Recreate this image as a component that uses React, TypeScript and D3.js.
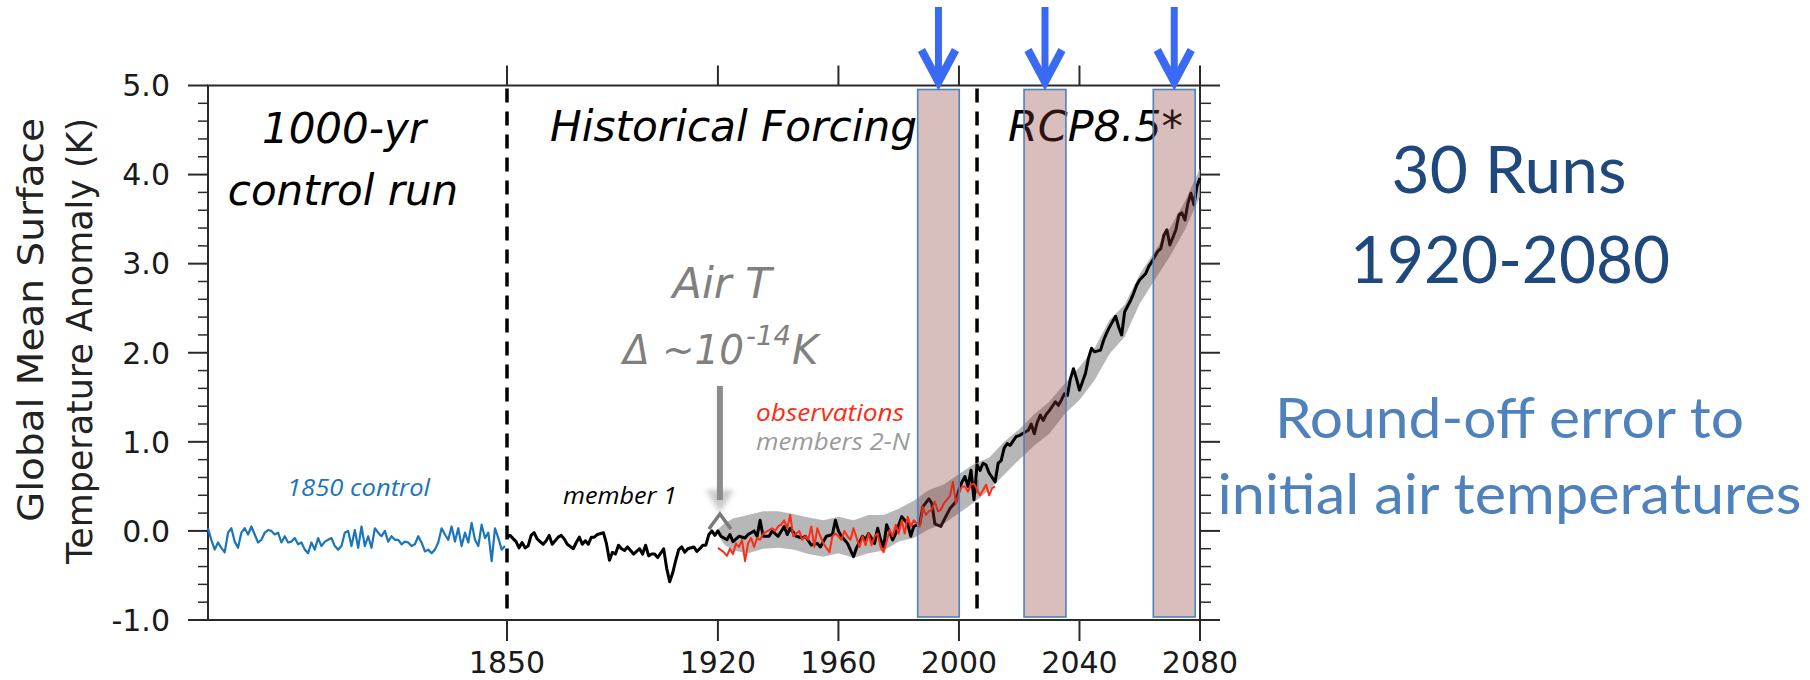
import * as d3 from "d3";

// 1000-yr control run, shown compressed left of 1850 (evenly spaced samples)
const controlRun = [
  0.03, -0.1, -0.21, -0.13, -0.19, -0.24, -0.02, 0.03, -0.12, -0.19,
  -0.02, 0.03, -0.04, 0.05, -0.04, -0.13, -0.1, -0.02, 0.01, 0.0,
  -0.04, -0.02, -0.13, -0.06, -0.13, -0.12, -0.08, -0.15, -0.13, -0.21,
  -0.25, -0.13, -0.21, -0.08, -0.17, -0.12, -0.1, -0.08, -0.17, -0.21,
  -0.17, -0.02, 0.0, -0.17, 0.01, -0.19, 0.05, -0.17, -0.06, -0.19,
  0.03, -0.02, -0.06, 0.0, -0.12, -0.06, -0.1, -0.1, -0.15, -0.12,
  -0.13, -0.17, -0.15, -0.06, -0.13, -0.23, -0.21, -0.25, -0.21, -0.13,
  0.03, -0.04, -0.1, 0.05, -0.12, 0.03, -0.17, -0.02, -0.13, 0.09,
  -0.1, -0.17, 0.07, -0.08, -0.02, -0.34, 0.03, -0.08, -0.21, -0.17,
];

// member 1 [year, anomaly]
const member1: [number, number][] = [
  [1850, -0.07], [1851, -0.05], [1853, -0.12], [1854, -0.19], [1855, -0.13], [1856, -0.19],
  [1857, -0.17], [1858, -0.05], [1859, -0.02], [1860, -0.09], [1862, -0.15], [1863, -0.11],
  [1864, -0.05], [1865, -0.15], [1866, -0.11], [1867, -0.07], [1868, -0.05], [1869, -0.09],
  [1870, -0.15], [1872, -0.2], [1873, -0.13], [1874, -0.07], [1875, -0.15], [1876, -0.11],
  [1877, -0.15], [1878, -0.07], [1879, -0.07], [1880, -0.04], [1882, -0.02], [1883, -0.14],
  [1884, -0.33], [1885, -0.24], [1886, -0.26], [1887, -0.16], [1888, -0.2], [1889, -0.22],
  [1890, -0.18], [1892, -0.26], [1893, -0.23], [1894, -0.2], [1895, -0.26], [1896, -0.16],
  [1897, -0.28], [1898, -0.26], [1899, -0.26], [1900, -0.3], [1902, -0.2], [1903, -0.42],
  [1904, -0.57], [1905, -0.47], [1906, -0.33], [1907, -0.21], [1908, -0.18], [1909, -0.24],
  [1910, -0.2], [1912, -0.18], [1913, -0.23], [1914, -0.2], [1915, -0.16], [1916, -0.16],
  [1917, -0.04], [1918, 0.0], [1919, -0.05],
  [1920, 0.0], [1921, -0.06], [1923, -0.1], [1924, -0.04], [1925, -0.12], [1927, -0.06],
  [1929, -0.08], [1930, -0.04], [1932, 0.0], [1933, -0.06], [1934, 0.12], [1935, -0.06],
  [1937, -0.06], [1938, 0.0], [1940, -0.06], [1942, 0.05], [1943, -0.04], [1944, 0.03],
  [1946, -0.06], [1948, -0.08], [1949, -0.06], [1951, -0.16], [1953, -0.14], [1954, -0.18],
  [1956, -0.06], [1958, -0.04], [1959, 0.12], [1960, 0.0], [1961, -0.06], [1962, -0.1],
  [1963, -0.14], [1965, -0.29], [1966, -0.19], [1968, -0.06], [1969, -0.1], [1970, -0.03],
  [1972, -0.14], [1973, 0.03], [1974, -0.1], [1975, -0.18], [1976, 0.07], [1978, -0.1],
  [1979, -0.03], [1981, 0.16], [1983, 0.08], [1984, -0.06], [1985, 0.05], [1987, 0.08],
  [1988, 0.27], [1990, 0.36], [1991, 0.31], [1992, 0.08], [1994, 0.05], [1995, 0.12],
  [1997, 0.25], [1999, 0.33], [2000, 0.46], [2001, 0.55], [2002, 0.61], [2003, 0.5],
  [2004, 0.68], [2005, 0.35], [2006, 0.74], [2007, 0.68], [2008, 0.76], [2009, 0.74],
  [2010, 0.65], [2012, 0.55], [2013, 0.76], [2014, 0.79], [2015, 0.93], [2016, 0.98],
  [2017, 0.96], [2018, 1.01], [2019, 1.06], [2020, 1.07], [2022, 1.11], [2023, 1.13],
  [2024, 1.2], [2025, 1.09], [2026, 1.22], [2027, 1.3], [2028, 1.24], [2029, 1.31],
  [2030, 1.35], [2032, 1.45], [2033, 1.41], [2034, 1.47], [2035, 1.54], [2036, 1.52],
  [2037, 1.71], [2038, 1.82], [2039, 1.71], [2040, 1.58], [2042, 1.77], [2043, 1.94],
  [2044, 2.05], [2045, 2.01], [2047, 2.03], [2048, 2.14], [2049, 2.22], [2050, 2.29],
  [2051, 2.35], [2052, 2.41], [2053, 2.29], [2054, 2.2], [2055, 2.46], [2057, 2.59],
  [2058, 2.67], [2059, 2.76], [2060, 2.82], [2062, 2.89], [2063, 2.97], [2064, 3.02],
  [2065, 3.08], [2066, 3.14], [2067, 3.17], [2068, 3.32], [2069, 3.38], [2070, 3.21],
  [2072, 3.38], [2073, 3.55], [2074, 3.57], [2075, 3.49], [2076, 3.68], [2077, 3.79],
  [2078, 3.66], [2079, 3.87], [2080, 3.96],
];

// observations [year, anomaly]
const observations: [number, number][] = [
  [1920, -0.19], [1922, -0.24], [1923, -0.28], [1924, -0.2], [1925, -0.26], [1926, -0.14],
  [1927, -0.18], [1928, -0.1], [1929, -0.34], [1930, -0.14], [1931, -0.08], [1932, -0.18],
  [1933, -0.08], [1934, -0.1], [1935, -0.03], [1937, 0.01], [1938, 0.03], [1939, 0.0],
  [1940, 0.05], [1941, 0.07], [1942, 0.12], [1943, 0.03], [1944, 0.18], [1945, -0.06],
  [1947, 0.0], [1948, -0.1], [1949, -0.06], [1950, -0.1], [1951, 0.05], [1952, -0.18],
  [1953, 0.03], [1954, -0.06], [1955, -0.14], [1957, -0.24], [1958, -0.06], [1959, -0.03],
  [1960, -0.06], [1961, -0.1], [1962, 0.0], [1963, -0.06], [1964, -0.1], [1965, 0.03],
  [1967, -0.18], [1968, -0.06], [1969, -0.16], [1970, -0.03], [1971, -0.16], [1972, -0.06],
  [1973, -0.03], [1974, -0.18], [1975, -0.24], [1977, 0.01], [1978, -0.06], [1979, 0.07],
  [1980, -0.03], [1981, 0.12], [1982, -0.03], [1983, 0.16], [1984, 0.05], [1985, 0.12],
  [1987, 0.05], [1988, 0.27], [1989, 0.18], [1990, 0.22], [1991, 0.24], [1992, 0.33],
  [1993, 0.22], [1994, 0.24], [1995, 0.31], [1997, 0.39], [1998, 0.55], [1999, 0.31],
  [2000, 0.42], [2001, 0.5], [2002, 0.5], [2003, 0.44], [2004, 0.52], [2005, 0.53],
  [2007, 0.4], [2008, 0.46], [2009, 0.52], [2010, 0.4], [2011, 0.48], [2012, 0.5],
];

// members 2-N envelope [year, low, high]
const ensembleSpread: [number, number, number][] = [
  [1920, -0.04, 0.02], [1922, -0.15, 0.08], [1925, -0.22, 0.14], [1930, -0.25, 0.18],
  [1935, -0.2, 0.22], [1940, -0.19, 0.22], [1945, -0.21, 0.19], [1950, -0.26, 0.15],
  [1955, -0.29, 0.12], [1960, -0.25, 0.16], [1965, -0.3, 0.12], [1970, -0.25, 0.18],
  [1975, -0.22, 0.18], [1980, -0.12, 0.25], [1985, -0.08, 0.34], [1990, 0.02, 0.46],
  [1995, 0.08, 0.52], [2000, 0.2, 0.64], [2005, 0.32, 0.75], [2010, 0.46, 0.82],
  [2015, 0.63, 1.0], [2020, 0.8, 1.14], [2025, 0.96, 1.31], [2030, 1.09, 1.45],
  [2035, 1.31, 1.65], [2040, 1.47, 1.84], [2045, 1.69, 2.05], [2050, 1.99, 2.37],
  [2055, 2.18, 2.54], [2060, 2.55, 2.88], [2065, 2.82, 3.14], [2070, 3.08, 3.4],
  [2075, 3.38, 3.7], [2080, 3.75, 4.07],
];

const yTicks = [-1, 0, 1, 2, 3, 4, 5];
const xTicks = [1850, 1920, 1960, 2000, 2040, 2080];
const dividers = [1850, 2006];
const windows: [number, number][] = [[1986.3, 2000.1], [2021.6, 2035.5], [2064.5, 2078.4]];
const perturbYear = 1920;

const PLOT_FONT = "'DejaVu Sans', Verdana, sans-serif";
const NOTE_FONT = "'Open Sans', sans-serif";
const SIDE_FONT = "Lato, 'Open Sans', sans-serif";

export default function App() {
  const x = d3.scaleLinear().domain([1850, 2080]).range([507, 1200]);
  const xCtl = d3.scaleLinear().domain([0, controlRun.length - 1]).range([208, 505]);
  const y = d3.scaleLinear().domain([-1, 5]).range([620, 85.5]);

  const left = 208;
  const right = x(2080);
  const top = y(5);
  const bottom = y(-1);

  const line = d3.line<[number, number]>().x((d) => x(d[0])).y((d) => y(d[1]));
  const ctlLine = d3.line<number>().x((d, i) => xCtl(i)).y((d) => y(d));
  const band = d3
    .area<[number, number, number]>()
    .x((d) => x(d[0]))
    .y0((d) => y(d[1]))
    .y1((d) => y(d[2]));

  const minor = d3.range(0, 31).filter((i) => i % 5 !== 0).map((i) => -1 + i * 0.2);
  const axisColor = "#2a2a2a";
  const px = x(perturbYear) + 2;

  return (
    <svg width={1810} height={680} style={{ position: "absolute", left: 0, top: 0, background: "#fff" }}>
      <defs>
        <filter id="soft" x="-50%" y="-50%" width="200%" height="200%">
          <feGaussianBlur stdDeviation="2.5" />
        </filter>
      </defs>

      {/* frame */}
      <rect x={left} y={top} width={right - left} height={bottom - top} fill="none" stroke={axisColor} strokeWidth={2} />
      {yTicks.map((t) => (
        <g key={"yt" + t}>
          <line x1={left - 20} x2={left} y1={y(t)} y2={y(t)} stroke={axisColor} strokeWidth={2} />
          <line x1={right} x2={right + 20} y1={y(t)} y2={y(t)} stroke={axisColor} strokeWidth={2} />
          <text x={170} y={y(t)} dy="0.36em" textAnchor="end" fontFamily={PLOT_FONT} fontSize={30} fill="#1a1a1a">
            {t.toFixed(1)}
          </text>
        </g>
      ))}
      {minor.map((t) => (
        <g key={"ym" + t}>
          <line x1={left - 10} x2={left} y1={y(t)} y2={y(t)} stroke={axisColor} strokeWidth={1.5} />
          <line x1={right} x2={right + 11} y1={y(t)} y2={y(t)} stroke={axisColor} strokeWidth={1.5} />
        </g>
      ))}
      {xTicks.map((t) => (
        <g key={"xt" + t}>
          <line x1={x(t)} x2={x(t)} y1={top - 20} y2={top} stroke={axisColor} strokeWidth={2} />
          <line x1={x(t)} x2={x(t)} y1={bottom} y2={bottom + 21} stroke={axisColor} strokeWidth={2} />
          <text x={x(t)} y={673} textAnchor="middle" fontFamily={PLOT_FONT} fontSize={30} fill="#1a1a1a">
            {t}
          </text>
        </g>
      ))}

      {/* y axis title */}
      <g fontFamily={PLOT_FONT} fontSize={35} fill="#222">
        <text transform="translate(43,118) rotate(-90)" textAnchor="end" textLength={404} lengthAdjust="spacingAndGlyphs">
          Global Mean Surface
        </text>
        <text transform="translate(92,118) rotate(-90)" textAnchor="end" textLength={446} lengthAdjust="spacingAndGlyphs">
          Temperature Anomaly (K)
        </text>
      </g>

      {/* period dividers */}
      {dividers.map((d) => (
        <line key={"dv" + d} x1={x(d)} x2={x(d)} y1={top + 3} y2={611} stroke="#000" strokeWidth={3.5} strokeDasharray="14,9" />
      ))}

      {/* series */}
      <path d={ctlLine(controlRun) ?? ""} fill="none" stroke="#1b75bb" strokeWidth={2.2} strokeLinejoin="round" />
      <path d={band(ensembleSpread) ?? ""} fill="#a5a5a5" fillOpacity={0.8} stroke="none" />
      <path d={line(member1) ?? ""} fill="none" stroke="#000" strokeWidth={3} strokeLinejoin="round" />
      <path d={line(observations) ?? ""} fill="none" stroke="#ff2b12" strokeWidth={2} strokeLinejoin="round" />

      {/* in-plot labels */}
      <g fontFamily={PLOT_FONT} fontStyle="italic" fontSize={42} fill="#000">
        <text x={344} y={143} textAnchor="middle">1000-yr</text>
        <text x={343} y={205} textAnchor="middle">control run</text>
        <text x={550} y={141} textLength={367} lengthAdjust="spacingAndGlyphs">Historical Forcing</text>
        <text x={1008} y={141} textLength={175} lengthAdjust="spacingAndGlyphs">RCP8.5*</text>
      </g>
      <g fontFamily={PLOT_FONT} fontStyle="italic" fill="#808080">
        <text x={722} y={298} textAnchor="middle" fontSize={43}>Air T</text>
        <text x={623} y={364} fontSize={40} textLength={121} lengthAdjust="spacingAndGlyphs">Δ ~10</text>
        <text x={746} y={345} fontSize={27} textLength={45} lengthAdjust="spacingAndGlyphs">-14</text>
        <text x={792} y={364} fontSize={40}>K</text>
      </g>
      <g fontFamily={NOTE_FONT} fontStyle="italic" fontSize={24}>
        <text x={287} y={496} fill="#1b75bb" textLength={143} lengthAdjust="spacingAndGlyphs">1850 control</text>
        <text x={563} y={504} fill="#000" textLength={114} lengthAdjust="spacingAndGlyphs">member 1</text>
        <text x={756} y={421} fill="#ff2b12" textLength={148} lengthAdjust="spacingAndGlyphs">observations</text>
        <text x={756} y={450} fill="#9a9a9a" textLength={154} lengthAdjust="spacingAndGlyphs">members 2-N</text>
      </g>

      {/* perturbation arrow */}
      <line x1={px} x2={px} y1={386} y2={500} stroke="#8c8c8c" strokeWidth={6} />
      <polygon points={`${px - 14},490 ${px + 14},490 ${px},513`} fill="#8c8c8c" opacity={0.45} filter="url(#soft)" />
      <polyline points={`${px - 11},529 ${px},514 ${px + 11},529`} fill="none" stroke="#7a7a7a" strokeWidth={3.5} />

      {/* analysis windows */}
      {windows.map(([a, b]) => (
        <g key={"w" + a}>
          <rect x={x(a)} y={top + 4} width={x(b) - x(a)} height={bottom - top - 7} fill="#8b3a3a" fillOpacity={0.33} />
          <rect x={x(a)} y={top + 4} width={x(b) - x(a)} height={bottom - top - 7} fill="none" stroke="#4f81bd" strokeWidth={1.6} />
        </g>
      ))}
      {windows.map(([a, b]) => {
        const cx = (x(a) + x(b)) / 2;
        return (
          <g key={"ar" + a} stroke="#3a6af5" fill="none">
            <line x1={cx} x2={cx} y1={7} y2={79} strokeWidth={7} />
            <polyline points={`${cx - 17},50 ${cx},82 ${cx + 17},50`} strokeWidth={8} strokeLinejoin="miter" />
          </g>
        );
      })}

      {/* side notes */}
      <g fontFamily={SIDE_FONT} textAnchor="middle">
        <text x={1509} y={193} fontSize={66} fill="#1f497d" textLength={235} lengthAdjust="spacingAndGlyphs">30 Runs</text>
        <text x={1510} y={283} fontSize={66} fill="#1f497d" textLength={320} lengthAdjust="spacingAndGlyphs">1920-2080</text>
        <text x={1509.5} y={438} fontSize={56} fill="#4f81bd" textLength={469} lengthAdjust="spacingAndGlyphs">Round-off error to</text>
        <text x={1509.5} y={514} fontSize={56} fill="#4f81bd" textLength={584} lengthAdjust="spacingAndGlyphs">initial air temperatures</text>
      </g>
    </svg>
  );
}
